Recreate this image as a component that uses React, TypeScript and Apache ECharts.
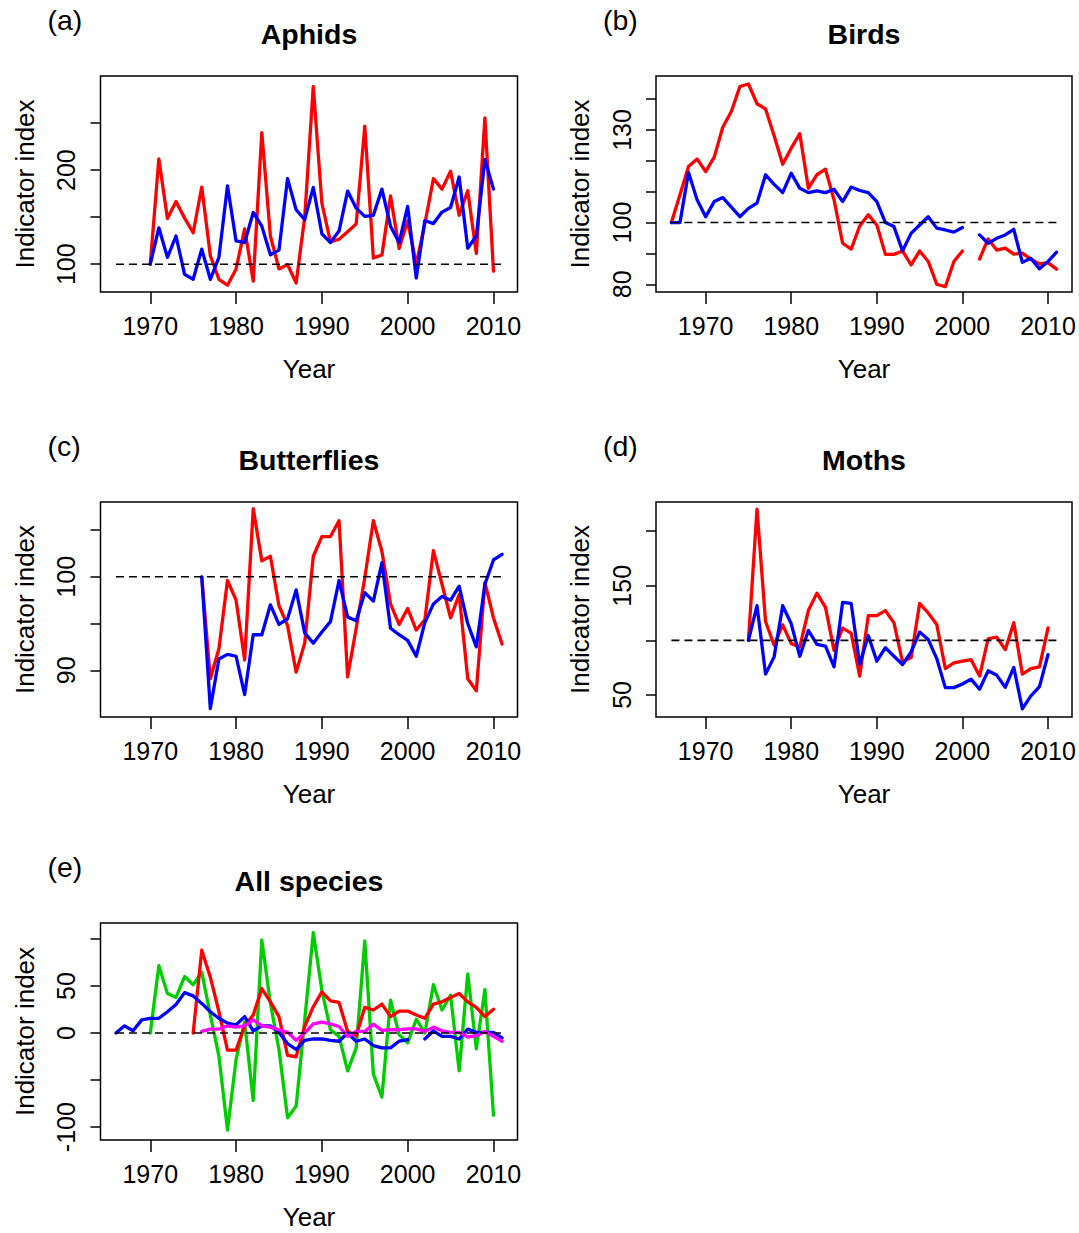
import React, { useEffect, useRef } from "react";
import * as echarts from "echarts";

// ---------- DATA ----------
const aphidYears = [1970, 1971, 1972, 1973, 1974, 1975, 1976, 1977, 1978, 1979, 1980, 1981, 1982, 1983, 1984, 1985, 1986, 1987, 1988, 1989, 1990, 1991, 1992, 1993, 1994, 1995, 1996, 1997, 1998, 1999, 2000, 2001, 2002, 2003, 2004, 2005, 2006, 2007, 2008, 2009, 2010];
const aphidRed = [100, 211.9, 148.5, 166.6, 149, 133.5, 182, 109, 84, 77.7, 95, 137.6, 82, 239.8, 130, 95, 99.6, 80, 150, 289, 164.8, 123.7, 126.5, 134.5, 142.9, 246.8, 106.6, 109.8, 172.5, 116.7, 146, 100, 143, 191, 179.8, 198.7, 152, 178, 111.5, 255.5, 92.7];
const aphidBlue = [100, 138.7, 107.3, 130, 89.2, 84, 116, 84, 107.3, 183.3, 124.7, 123, 155, 140.4, 110, 115, 191, 157.9, 147.4, 181.6, 132.4, 123, 135.2, 177.7, 159.6, 150.9, 152, 179.8, 140.4, 123, 161.4, 85.4, 146.4, 143.2, 155.4, 160.3, 192.7, 117, 130, 211.2, 179.8];

const birdYears = [1966, 1967, 1968, 1969, 1970, 1971, 1972, 1973, 1974, 1975, 1976, 1977, 1978, 1979, 1980, 1981, 1982, 1983, 1984, 1985, 1986, 1987, 1988, 1989, 1990, 1991, 1992, 1993, 1994, 1995, 1996, 1997, 1998, 1999, 2000, 2001, 2002, 2003, 2004, 2005, 2006, 2007, 2008, 2009, 2010, 2011];
const birdRed = [100, 109, 118.2, 120.6, 116.5, 121.2, 130.9, 136, 144.1, 144.9, 138.5, 136.8, 128.1, 118.9, 124.1, 128.8, 111.1, 115.5, 117.3, 107.4, 93.3, 91.4, 98.9, 102.5, 99.2, 89.7, 89.7, 90.8, 86.3, 90.8, 87.4, 80, 79.2, 87.4, 90.8, null, 88.2, 94.7, 91.1, 91.7, 89.8, 90.1, 88.1, 86.6, 87, 84.9];
const birdBlue = [100, 100, 116.2, 107.4, 101.9, 106.8, 108.1, 105, 101.9, 104.6, 106.3, 115.5, 112.4, 109.7, 116, 111.1, 109.7, 110.3, 109.7, 110.8, 106.8, 111.5, 110.4, 109.7, 106.8, 100, 98.7, 90.8, 96.5, 99.2, 101.9, 98.2, 97.6, 96.9, 98.4, null, 96, 93.3, 94.9, 96, 97.8, 87.1, 88.4, 85, 87.4, 90.4];

const butterflyYears = [1976, 1977, 1978, 1979, 1980, 1981, 1982, 1983, 1984, 1985, 1986, 1987, 1988, 1989, 1990, 1991, 1992, 1993, 1994, 1995, 1996, 1997, 1998, 1999, 2000, 2001, 2002, 2003, 2004, 2005, 2006, 2007, 2008, 2009, 2010, 2011];
const butterflyRed = [100, 89.1, 92.3, 99.6, 97.5, 91.1, 107.3, 101.7, 102.2, 96.9, 94.8, 89.8, 92.9, 102.2, 104.3, 104.3, 106, 89.3, 94.5, 99.9, 106, 102.7, 97.1, 94.9, 96.6, 94.3, 95.4, 102.8, 99.2, 95.6, 98.1, 89.1, 87.8, 99.4, 95.6, 92.8];
const butterflyBlue = [100, 85.9, 91.2, 91.7, 91.5, 87.4, 93.8, 93.8, 97, 94.9, 95.5, 98.6, 94, 92.9, 94.1, 95.2, 99.6, 95.7, 95.3, 98.3, 97.4, 101.5, 94.5, 93.8, 93.2, 91.5, 95.1, 97.1, 97.9, 97.5, 99, 95, 92.5, 99.2, 101.8, 102.4];

const mothYears = [1975, 1976, 1977, 1978, 1979, 1980, 1981, 1982, 1983, 1984, 1985, 1986, 1987, 1988, 1989, 1990, 1991, 1992, 1993, 1994, 1995, 1996, 1997, 1998, 1999, 2000, 2001, 2002, 2003, 2004, 2005, 2006, 2007, 2008, 2009, 2010];
const mothRed = [100, 220.3, 117.3, 95.5, 114.2, 97, 94, 127.3, 143.3, 130.3, 90.9, 111.2, 106.7, 67.3, 122.7, 122.7, 127.3, 116, 80.3, 84.2, 133.9, 125.1, 114.5, 74.2, 79.4, 80.9, 82.4, 67.3, 101.5, 103, 91.5, 116.1, 69.1, 74.2, 75.8, 111.5];
const mothBlue = [100, 131.8, 69.1, 84.9, 131.8, 115.2, 85.5, 109.1, 96.4, 94.8, 75.8, 134.8, 133.9, 78.2, 104.5, 80.9, 93.3, 85.5, 77.9, 89.4, 107.6, 100.9, 83.3, 56.7, 56.7, 60, 64.5, 55.2, 72.1, 68.2, 57, 75.2, 37.3, 49.1, 57.6, 87];

const allGreenYears = aphidYears;
const allGreen = [0, 71.7, 42, 37.8, 60.1, 51.4, 64.7, 19.2, -24.5, -103.2, -28, 11.5, -71.7, 99, 31.5, -17.5, -90.2, -77.6, 14, 106.7, 45.5, 3.5, -3.5, -40.2, -15.7, 97.9, -43.7, -68.2, 35, -1.7, -10.5, 14.7, 0, 51.4, 24.5, 40.2, -40.2, 63, -16.8, 46.2, -87.4];
const allRedYears = mothYears;
const allRed = [0, 88.1, 59.4, 22.7, -18.2, -18.2, 7.7, 19.2, 47.2, 33.2, 17.5, -23.8, -25.2, 7, 28, 43.7, 34.3, 32.5, 1.7, -2.8, 27.3, 24.5, 30.8, 17.5, 23.4, 23.4, 19.2, 15.7, 30.8, 33.2, 37.8, 42, 33.2, 27.3, 17.5, 25.2];
const allBlueYears = birdYears;
const allBlue = [0, 7.7, 2.4, 14, 15.7, 15.7, 22.7, 30.4, 43, 39.5, 31.5, 22.7, 15.7, 10.5, 8.7, 17.5, 2.4, 7.7, 7.7, 0.7, -11.2, -17.5, -7.7, -6.3, -6.3, -7.7, -8.7, 0, -8.7, -6.3, -13.3, -15.7, -15.7, -8.7, -7, null, -6.3, 2.4, -3.5, -3.5, -6.3, 4.2, 0.7, 0.7, 0.7, -5.2];
const allMagentaYears = butterflyYears;
const allMagenta = [1.7, 4.2, 4.2, 7.7, 6.3, 7.7, 14, 7.7, 6.3, 3.5, 0.7, -7.7, 0, 9.8, 11.5, 9.8, 7, -3.5, 1.7, 1.7, 9.4, 2.8, 3.5, 3.5, 4.5, 4.5, 1.7, 6.3, 2.4, 0.7, 0.7, -4.2, -2.8, 1.7, -3.5, -8.7];

// reference (dashed) line span and baselines
const refYears = [1966, 2011];
const indexBase = 100;
const allBase = 0;

// axis ticks and tick labels
const xTicks = [1970, 1980, 1990, 2000, 2010];
const xRange = [1964.2, 2012.8];
const aphidTicks = [100, 150, 200, 250];
const aphidLabels = [100, 200];
const birdTicks = [80, 90, 100, 110, 120, 130, 140];
const birdLabels = [80, 100, 130];
const butterflyTicks = [90, 95, 100, 105];
const butterflyLabels = [90, 100];
const mothTicks = [50, 100, 150, 200];
const mothLabels = [50, 150];
const allTicks = [-100, -50, 0, 50, 100];
const allLabels = [-100, 0, 50];

const RED = "#FF0000";
const BLUE = "#0000FF";
const GREEN = "#00CD00";
const MAGENTA = "#FF00FF";
const FONT = "'Liberation Sans', Arial, Helvetica, sans-serif";

type Line = { years: number[]; values: (number | null)[]; color: string };
type Panel = {
  tag: string;
  title: string;
  left: number;
  top: number;
  width: number;
  height: number;
  yRange: number[];
  ticks: number[];
  labels: number[];
  base: number;
  lines: Line[];
};

const panels: Panel[] = [
  {
    tag: "(a)", title: "Aphids", left: 100.5, top: 76, width: 417, height: 216,
    yRange: [70.5, 300], ticks: aphidTicks, labels: aphidLabels, base: indexBase,
    lines: [
      { years: aphidYears, values: aphidRed, color: RED },
      { years: aphidYears, values: aphidBlue, color: BLUE },
    ],
  },
  {
    tag: "(b)", title: "Birds", left: 656, top: 76, width: 416, height: 216,
    yRange: [77.5, 147.5], ticks: birdTicks, labels: birdLabels, base: indexBase,
    lines: [
      { years: birdYears, values: birdRed, color: RED },
      { years: birdYears, values: birdBlue, color: BLUE },
    ],
  },
  {
    tag: "(c)", title: "Butterflies", left: 100.5, top: 502, width: 417, height: 215,
    yRange: [85.0, 108.0], ticks: butterflyTicks, labels: butterflyLabels, base: indexBase,
    lines: [
      { years: butterflyYears, values: butterflyRed, color: RED },
      { years: butterflyYears, values: butterflyBlue, color: BLUE },
    ],
  },
  {
    tag: "(d)", title: "Moths", left: 656, top: 502, width: 416, height: 215,
    yRange: [29.8, 226.8], ticks: mothTicks, labels: mothLabels, base: indexBase,
    lines: [
      { years: mothYears, values: mothRed, color: RED },
      { years: mothYears, values: mothBlue, color: BLUE },
    ],
  },
  {
    tag: "(e)", title: "All species", left: 100.5, top: 923, width: 417, height: 217,
    yRange: [-113.7, 117], ticks: allTicks, labels: allLabels, base: allBase,
    lines: [
      { years: allGreenYears, values: allGreen, color: GREEN },
      { years: allRedYears, values: allRed, color: RED },
      { years: allBlueYears, values: allBlue, color: BLUE },
      { years: allMagentaYears, values: allMagenta, color: MAGENTA },
    ],
  },
];

function buildOption() {
  const grid: any[] = [];
  const xAxis: any[] = [];
  const yAxis: any[] = [];
  const series: any[] = [];
  const graphic: any[] = [];

  panels.forEach((p, i) => {
    grid.push({
      left: p.left, top: p.top, width: p.width, height: p.height,
      show: true, borderColor: "#000", borderWidth: 1.5, backgroundColor: "transparent",
      containLabel: false,
    });
    xAxis.push({
      type: "value", gridIndex: i, min: xRange[0], max: xRange[1], position: "bottom",
      axisLine: { show: false, onZero: false }, splitLine: { show: false },
      axisTick: { show: true, length: 12, lineStyle: { color: "#000", width: 1.5 }, customValues: xTicks },
      axisLabel: {
        show: true, margin: 21.5, fontSize: 25, color: "#000", fontFamily: FONT,
        customValues: xTicks, formatter: (v: number) => String(v),
      },
      name: "Year", nameLocation: "middle", nameGap: 64,
      nameTextStyle: { fontSize: 26, color: "#000", fontFamily: FONT },
    });
    yAxis.push({
      type: "value", gridIndex: i, min: p.yRange[0], max: p.yRange[1], position: "left",
      axisLine: { show: false, onZero: false }, splitLine: { show: false },
      axisTick: { show: true, length: 10, lineStyle: { color: "#000", width: 1.5 }, customValues: p.ticks },
      axisLabel: {
        show: true, rotate: 90, margin: 22, fontSize: 25, color: "#000", fontFamily: FONT,
        customValues: p.labels, formatter: (v: number) => String(v),
      },
      name: "Indicator index", nameLocation: "middle", nameGap: 63, nameRotate: 90,
      nameTextStyle: { fontSize: 26, color: "#000", fontFamily: FONT },
    });
    p.lines.forEach((ln) => {
      series.push({
        type: "line", xAxisIndex: i, yAxisIndex: i,
        data: ln.years.map((y, k) => [y, ln.values[k] === null ? "-" : ln.values[k]]),
        showSymbol: false, symbol: "none", connectNulls: false, silent: true,
        lineStyle: { color: ln.color, width: 3.3, join: "round", cap: "round" },
        itemStyle: { color: ln.color },
        z: 2,
      });
    });
    series.push({
      type: "line", xAxisIndex: i, yAxisIndex: i,
      data: refYears.map((y) => [y, p.base]),
      showSymbol: false, symbol: "none", silent: true,
      lineStyle: { color: "#000", width: 1.6, type: [8, 5] },
      z: 3,
    });
    const cx = p.left + p.width / 2;
    graphic.push({
      type: "text", x: cx, y: p.top - 42.5,
      style: {
        text: p.title, fill: "#000", fontSize: 28.5, fontWeight: "bold", fontFamily: FONT,
        align: "center", verticalAlign: "middle",
      },
    });
    graphic.push({
      type: "text", x: p.left - 53, y: p.top - 56,
      style: {
        text: p.tag, fill: "#000", fontSize: 28.5, fontFamily: FONT,
        align: "left", verticalAlign: "middle",
      },
    });
  });

  return {
    animation: false,
    backgroundColor: "#ffffff",
    grid, xAxis, yAxis, series, graphic,
  };
}

export default function App() {
  const ref = useRef<HTMLDivElement>(null);
  useEffect(() => {
    if (!ref.current) return;
    const chart = echarts.init(ref.current, null, { renderer: "svg" });
    chart.setOption(buildOption() as any);
    return () => chart.dispose();
  }, []);
  return (
    <div
      ref={ref}
      style={{ position: "absolute", left: 0, top: 0, width: 1079, height: 1233, background: "#fff" }}
    />
  );
}
